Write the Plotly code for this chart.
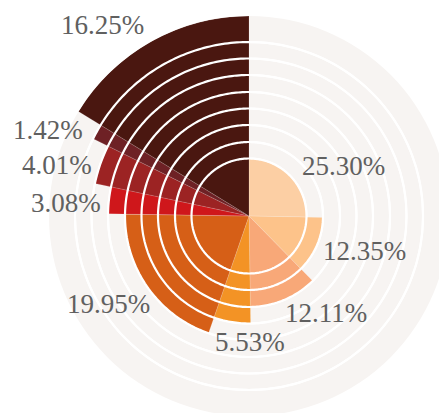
import math
import plotly.graph_objects as go

# ---- data ----
labels = ["25.30%", "12.35%", "12.11%", "5.53%", "19.95%", "3.08%", "4.01%", "1.42%", "16.25%"]
shares = [25.30, 12.35, 12.11, 5.53, 19.95, 3.08, 4.01, 1.42, 16.25]
radii = [57.5, 74, 91, 107.5, 124, 141, 157.5, 174, 200]
colors = ["#fccfa4", "#fdc38a", "#f8a878", "#f39325", "#d65f17",
          "#cf171b", "#9c2323", "#6e2125", "#4a1710"]
# label positions (polar: radius, angle in degrees, clockwise from top)
label_r = [106.5, 121, 124, 126, 166, 183.5, 198.7, 218.6, 240.4]
label_theta = [62.0, 106.8, 141.6, 179.5, 238.0, 274.1, 284.9, 293.2, 322.6]

# ---- geometry of wedges (angular widths proportional to shares) ----
widths = [s * 3.6 for s in shares]
mids = []
acc = 0.0
for w in widths:
    mids.append(acc + w / 2)
    acc += w

fig = go.Figure()
fig.add_trace(go.Barpolar(
    r=radii, theta=mids, width=widths,
    marker=dict(color=colors, line=dict(color="rgba(255,255,255,0.25)", width=0.6)),
    hoverinfo="skip", showlegend=False,
))

# white rings drawn on top of the wedges, at each wedge radius
ring_theta = [i for i in range(0, 361)]
for rv in radii[:-1]:
    fig.add_trace(go.Scatterpolar(
        r=[rv] * len(ring_theta), theta=ring_theta, mode="lines",
        line=dict(color="white", width=2.2),
        hoverinfo="skip", showlegend=False,
    ))

rmax = radii[-1]
annotations = []
for txt, lr, lt in zip(labels, label_r, label_theta):
    a = math.radians(lt)
    annotations.append(dict(
        text=txt, xref="paper", yref="paper",
        x=0.5 + lr * math.sin(a) / (2 * rmax),
        y=0.5 + lr * math.cos(a) / (2 * rmax),
        xanchor="center", yanchor="middle", showarrow=False,
        font=dict(family="Liberation Serif", size=27, color="#606060"),
    ))

fig.update_layout(
    width=449, height=416,
    margin=dict(l=49, r=0, t=16, b=0),
    paper_bgcolor="white",
    annotations=annotations,
    polar=dict(
        bgcolor="#f7f4f2",
        domain=dict(x=[0, 1], y=[0, 1]),
        angularaxis=dict(rotation=90, direction="clockwise", showticklabels=False,
                         showgrid=False, showline=False, ticks=""),
        radialaxis=dict(range=[0, rmax], tickvals=radii[:-1], showticklabels=False,
                        gridcolor="white", gridwidth=2, showline=False, ticks=""),
        bargap=0,
    ),
)

fig.write_html(
    "out.html",
    config={"displayModeBar": False},
    post_script="document.body.style.margin='0';document.body.style.overflow='hidden';"
                "document.documentElement.style.overflow='hidden';",
)
